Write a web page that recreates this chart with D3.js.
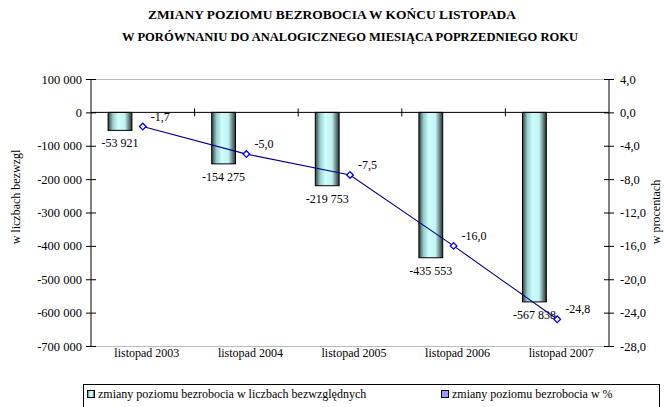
<!DOCTYPE html>
<html>
<head>
<meta charset="utf-8">
<script src="https://cdn.jsdelivr.net/npm/d3@7"></script>
<style>
  body { margin: 0; background: #fff; }
  text { font-family: "Liberation Serif", "Times New Roman", serif; fill: #000; }
</style>
</head>
<body>
<script>
// data
var categories = ["listopad 2003", "listopad 2004", "listopad 2005", "listopad 2006", "listopad 2007"];
var absValues = [-53921, -154275, -219753, -435553, -567838];
var pctValues = [-1.7, -5.0, -7.5, -16.0, -24.8];
var leftTicks = [100000, 0, -100000, -200000, -300000, -400000, -500000, -600000, -700000];
var rightTicks = [4, 0, -4, -8, -12, -16, -20, -24, -28];

(function() {
    var w = 664;
    var h = 407;
    var pl = 91, pr = 609, pt = 79, pb = 346; // plot area
    var fs = "12px";

    var svg = d3.select("body").append("svg")
        .attr("width", w)
        .attr("height", h);

    var defs = svg.append("defs");
    var grad = defs.append("linearGradient")
        .attr("id", "barGrad")
        .attr("x1", "0%").attr("x2", "100%")
        .attr("y1", "0%").attr("y2", "0%");
    grad.append("stop").attr("offset", "0%").attr("stop-color", "#2c3e3e");
    grad.append("stop").attr("offset", "20%").attr("stop-color", "#9ccccc");
    grad.append("stop").attr("offset", "42%").attr("stop-color", "#ccffff");
    grad.append("stop").attr("offset", "70%").attr("stop-color", "#c2f2f2");
    grad.append("stop").attr("offset", "100%").attr("stop-color", "#223232");

    var x = d3.scaleBand().domain(categories).range([pl, pr]).padding(0);
    var y = d3.scaleLinear().domain([-700000, 100000]).range([pb, pt]);
    var y2 = d3.scaleLinear().domain([-28, 4]).range([pb, pt]);

    function fmtAbs(v) {
        return d3.format(",")(v).replace(/,/g, " ").replace("\u2212", "-");
    }
    function fmtPct(v) {
        return d3.format(".1f")(v).replace(".", ",").replace("\u2212", "-");
    }

    // title
    svg.append("text")
        .attr("x", 148).attr("y", 19)
        .attr("textLength", 368).attr("lengthAdjust", "spacingAndGlyphs")
        .style("font-weight", "bold").style("font-size", "12.5px")
        .text("ZMIANY POZIOMU BEZROBOCIA W  KOŃCU  LISTOPADA");
    svg.append("text")
        .attr("x", 122).attr("y", 41)
        .attr("textLength", 456).attr("lengthAdjust", "spacingAndGlyphs")
        .style("font-weight", "bold").style("font-size", "12.5px")
        .text("W PORÓWNANIU DO ANALOGICZNEGO MIESIĄCA POPRZEDNIEGO ROKU");

    // gray top and bottom lines of the plot area
    svg.append("line")
        .attr("x1", pl).attr("x2", pr).attr("y1", pt + 0.5).attr("y2", pt + 0.5)
        .attr("stroke", "#bbbbbb");
    svg.append("line")
        .attr("x1", pl).attr("x2", pr).attr("y1", pb + 0.5).attr("y2", pb + 0.5)
        .attr("stroke", "#bbbbbb");

    // bars
    var bw = x.bandwidth();
    svg.selectAll("rect.bar")
        .data(absValues)
        .enter()
        .append("rect")
        .attr("class", "bar")
        .attr("x", function(d, i) { return x(categories[i]) + bw * 0.165; })
        .attr("y", y(0))
        .attr("width", bw * 0.23)
        .attr("height", function(d) { return y(d) - y(0); })
        .attr("fill", "url(#barGrad)")
        .attr("stroke", "#000")
        .attr("stroke-width", 1);

    svg.selectAll("text.barLabel")
        .data(absValues)
        .enter()
        .append("text")
        .attr("class", "barLabel")
        .attr("x", function(d, i) { return x(categories[i]) + bw * 0.28; })
        .attr("y", function(d) { return y(d) + 17; })
        .attr("text-anchor", "middle")
        .style("font-size", fs)
        .text(fmtAbs);

    // zero line with category ticks
    svg.append("line")
        .attr("x1", pl).attr("x2", pr).attr("y1", y(0)).attr("y2", y(0))
        .attr("stroke", "#000");
    svg.selectAll("line.catTick")
        .data(categories.slice(1))
        .enter()
        .append("line")
        .attr("class", "catTick")
        .attr("x1", function(d) { return x(d); })
        .attr("x2", function(d) { return x(d); })
        .attr("y1", y(0) - 4).attr("y2", y(0) + 4)
        .attr("stroke", "#000");

    // category labels
    svg.selectAll("text.cat")
        .data(categories)
        .enter()
        .append("text")
        .attr("class", "cat")
        .attr("x", function(d) { return x(d) + bw / 2 + 4; })
        .attr("y", 357)
        .attr("text-anchor", "middle")
        .style("font-size", fs)
        .text(function(d) { return d; });

    // left axis
    var leftAxis = d3.axisLeft(y).tickValues(leftTicks).tickSize(5).tickFormat(fmtAbs);
    var gL = svg.append("g").attr("transform", "translate(" + pl + ",0)").call(leftAxis);
    gL.select(".domain").remove();
    gL.append("line").attr("x1", 0).attr("x2", 0).attr("y1", pt).attr("y2", pb).attr("stroke", "#000");
    gL.selectAll(".tick line").attr("x1", 5).attr("stroke", "#000");
    gL.selectAll(".tick text")
        .attr("x", -9)
        .style("font-family", "'Liberation Serif', serif")
        .style("font-size", "12.5px")
        .attr("fill", "#000");

    // right axis
    var rightAxis = d3.axisRight(y2).tickValues(rightTicks).tickSize(5).tickFormat(fmtPct);
    var gR = svg.append("g").attr("transform", "translate(" + pr + ",0)").call(rightAxis);
    gR.select(".domain").remove();
    gR.append("line").attr("x1", 0).attr("x2", 0).attr("y1", pt).attr("y2", pb).attr("stroke", "#000");
    gR.selectAll(".tick line").attr("x1", -5).attr("stroke", "#000");
    gR.selectAll(".tick text")
        .attr("x", 11)
        .style("font-family", "'Liberation Serif', serif")
        .style("font-size", "12.5px")
        .attr("fill", "#000");

    // axis titles
    svg.append("text")
        .attr("transform", "translate(20,197) rotate(-90)")
        .attr("text-anchor", "middle")
        .style("font-size", fs)
        .text("w liczbach bezwzgl");
    svg.append("text")
        .attr("transform", "translate(660,212) rotate(-90)")
        .attr("text-anchor", "middle")
        .style("font-size", fs)
        .text("w procentach");

    // percentage line
    function cx(d, i) { return x(categories[i]) + bw / 2; }
    var line = d3.line()
        .x(function(d, i) { return cx(d, i); })
        .y(function(d) { return y2(d); });
    svg.append("path")
        .datum(pctValues)
        .attr("d", line)
        .attr("fill", "none")
        .attr("stroke", "#000080")
        .attr("stroke-width", 1.1);

    svg.selectAll("path.marker")
        .data(pctValues)
        .enter()
        .append("path")
        .attr("class", "marker")
        .attr("d", d3.symbol().type(d3.symbolSquare).size(22))
        .attr("transform", function(d, i) { return "translate(" + cx(d, i) + "," + y2(d) + ") rotate(45)"; })
        .attr("fill", "#fff")
        .attr("stroke", "#0000ff")
        .attr("stroke-width", 1.3);

    svg.selectAll("text.pctLabel")
        .data(pctValues)
        .enter()
        .append("text")
        .attr("class", "pctLabel")
        .attr("x", function(d, i) { return cx(d, i) + 8; })
        .attr("y", function(d) { return y2(d) - 6; })
        .style("font-size", fs)
        .text(fmtPct);

    // legend
    var lg = svg.append("g");
    lg.append("rect")
        .attr("x", 83.5).attr("y", 384.5)
        .attr("width", 576).attr("height", 30)
        .attr("fill", "#fff").attr("stroke", "#000");
    lg.append("rect")
        .attr("x", 87.5).attr("y", 390.5).attr("width", 7).attr("height", 7)
        .attr("fill", "url(#barGrad)").attr("stroke", "#000");
    lg.append("text")
        .attr("x", 98).attr("y", 398)
        .style("font-size", fs)
        .text("zmiany poziomu bezrobocia w liczbach bezwzględnych");
    lg.append("rect")
        .attr("x", 441.5).attr("y", 390.5).attr("width", 7).attr("height", 7)
        .attr("fill", "#9999ff").attr("stroke", "#000");
    lg.append("text")
        .attr("x", 452).attr("y", 398)
        .style("font-size", fs)
        .text("zmiany poziomu bezrobocia w %");
})();
</script>
</body>
</html>
